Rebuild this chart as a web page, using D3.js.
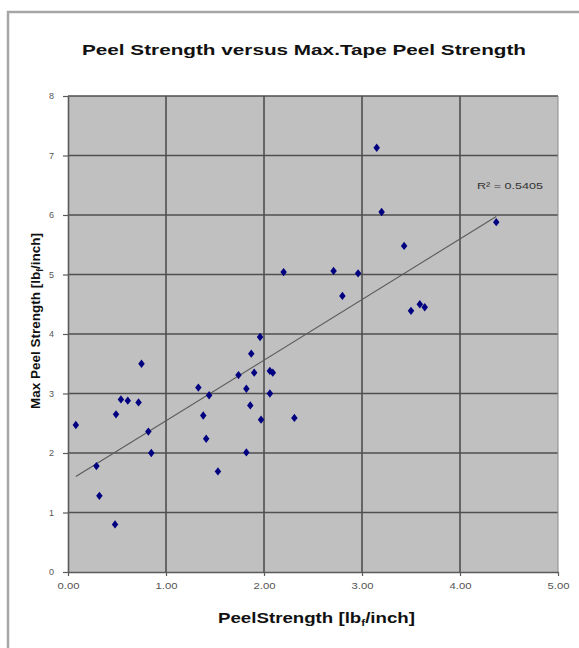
<!DOCTYPE html>
<html>
<head>
<meta charset="utf-8">
<script src="https://cdn.jsdelivr.net/npm/d3@7"></script>
<style>
  html, body { margin: 0; padding: 0; background: #fff; }
  svg { display: block; font-family: Arial, "Liberation Sans", sans-serif; }
</style>
</head>
<body>
<svg id="chart" width="579" height="648"></svg>
<script>
// ---- data ----
const peelStrength = [2.20, 3.15, 3.20, 4.37, 3.43, 2.71, 2.96, 2.80, 3.50, 3.59, 3.64,
  1.96, 1.87, 0.75, 1.74, 1.90, 2.06, 2.09, 1.33, 1.82, 1.44, 2.06, 0.54, 0.61, 0.72,
  1.86, 0.49, 1.38, 0.08, 2.31, 1.97, 0.82, 1.41, 0.85, 1.82, 0.29, 1.53, 0.32, 0.48];
const maxPeelStrength = [5.04, 7.13, 6.05, 5.88, 5.48, 5.06, 5.02, 4.64, 4.39, 4.50, 4.45,
  3.95, 3.67, 3.50, 3.31, 3.35, 3.38, 3.35, 3.10, 3.08, 2.97, 3.00, 2.90, 2.88, 2.85,
  2.80, 2.65, 2.63, 2.47, 2.59, 2.56, 2.36, 2.24, 2.00, 2.01, 1.78, 1.69, 1.28, 0.80];
const xTicks = [0, 1, 2, 3, 4, 5];
const yTicks = [0, 1, 2, 3, 4, 5, 6, 7, 8];
const titleText = "Peel Strength versus Max.Tape Peel Strength";
const rSquaredLabel = "R² = 0.5405";

// ---- layout ----
const svg = d3.select("#chart");
const plot = { left: 68, right: 558, top: 96, bottom: 572 };

const x = d3.scaleLinear().domain([0, 5]).range([plot.left, plot.right]);
const y = d3.scaleLinear().domain([0, 8]).range([plot.bottom, plot.top]);

// outer frame (left and top edges visible)
svg.append("path")
  .attr("d", "M8,648 L8,12 L579,12")
  .attr("fill", "none")
  .attr("stroke", "#a6a6a6")
  .attr("stroke-width", 2.5);

// plot background
svg.append("rect")
  .attr("x", plot.left).attr("y", plot.top)
  .attr("width", plot.right - plot.left).attr("height", plot.bottom - plot.top)
  .attr("fill", "#c0c0c0");

// gridlines
const grid = svg.append("g");
grid.selectAll("line.h").data(yTicks.filter(d => d > 0)).join("line")
  .attr("x1", plot.left).attr("x2", plot.right)
  .attr("y1", d => y(d)).attr("y2", d => y(d))
  .attr("stroke", "#4f4f4f").attr("stroke-width", 1.6);
grid.selectAll("line.v").data(xTicks.filter(d => d > 0 && d < 5)).join("line")
  .attr("y1", plot.top).attr("y2", plot.bottom)
  .attr("x1", d => x(d)).attr("x2", d => x(d))
  .attr("stroke", "#4f4f4f").attr("stroke-width", 1.6);
// right border of plot
svg.append("line")
  .attr("x1", plot.right).attr("x2", plot.right)
  .attr("y1", plot.top).attr("y2", plot.bottom)
  .attr("stroke", "#8a8a8a").attr("stroke-width", 1);

// axes
const xAxis = svg.append("g")
  .attr("transform", `translate(0,${plot.bottom})`)
  .call(d3.axisBottom(x).tickValues(xTicks).tickFormat(d3.format(".2f")).tickSize(4).tickPadding(7).tickSizeOuter(0));
const yAxis = svg.append("g")
  .attr("transform", `translate(${plot.left},0)`)
  .call(d3.axisLeft(y).tickValues(yTicks).tickFormat(d3.format("d")).tickSize(5).tickPadding(9).tickSizeOuter(0));

[xAxis, yAxis].forEach(a => {
  a.select(".domain").attr("stroke", "#5a5a5a").attr("stroke-width", 1.6);
  a.selectAll(".tick line").attr("stroke", "#5a5a5a").attr("stroke-width", 1.2);
  a.selectAll(".tick text")
    .attr("fill", "#555")
    .attr("font-size", 9)
    .attr("font-family", "Arial, 'Liberation Sans', sans-serif");
});
xAxis.selectAll(".tick text").attr("textLength", 22).attr("lengthAdjust", "spacingAndGlyphs");

// trendline: least squares fit of the data
const n = peelStrength.length;
const mx = d3.mean(peelStrength), my = d3.mean(maxPeelStrength);
let sxy = 0, sxx = 0;
for (let i = 0; i < n; i++) {
  sxy += (peelStrength[i] - mx) * (maxPeelStrength[i] - my);
  sxx += (peelStrength[i] - mx) ** 2;
}
const slope = sxy / sxx, intercept = my - slope * mx;
const [xmin, xmax] = d3.extent(peelStrength);
svg.append("line")
  .attr("x1", x(xmin)).attr("y1", y(intercept + slope * xmin))
  .attr("x2", x(xmax)).attr("y2", y(intercept + slope * xmax))
  .attr("stroke", "#5a5a5a").attr("stroke-width", 1.1);

// points
const diamond = d3.symbol().type(d3.symbolDiamond).size(20);
svg.append("g").selectAll("path").data(d3.range(n)).join("path")
  .attr("d", diamond)
  .attr("transform", i => `translate(${x(peelStrength[i])},${y(maxPeelStrength[i])}) scale(1.35,1)`)
  .attr("fill", "#000080");

// R² label
svg.append("text")
  .attr("x", 477).attr("y", 189)
  .attr("font-size", 9.5).attr("fill", "#333")
  .attr("textLength", 66).attr("lengthAdjust", "spacingAndGlyphs")
  .text(rSquaredLabel);

// title
svg.append("text")
  .attr("x", 82).attr("y", 55)
  .attr("font-size", 15).attr("font-weight", "bold").attr("fill", "#111")
  .attr("textLength", 444).attr("lengthAdjust", "spacingAndGlyphs")
  .text(titleText);

// x axis label
const xl = svg.append("text")
  .attr("x", 218).attr("y", 623)
  .attr("font-size", 14.5).attr("font-weight", "bold").attr("fill", "#111")
  .attr("textLength", 197).attr("lengthAdjust", "spacingAndGlyphs");
xl.append("tspan").text("PeelStrength [lb");
xl.append("tspan").attr("font-size", 9).attr("dy", 3).text("f");
xl.append("tspan").attr("dy", -3).text("/inch]");

// y axis label
const yl = svg.append("text")
  .attr("transform", "translate(40,409) rotate(-90)")
  .attr("x", 0).attr("y", 0)
  .attr("font-size", 13.5).attr("font-weight", "bold").attr("fill", "#111")
  .attr("textLength", 176).attr("lengthAdjust", "spacingAndGlyphs");
yl.append("tspan").text("Max Peel Strength [lb");
yl.append("tspan").attr("font-size", 8.5).attr("dy", 3).text("f");
yl.append("tspan").attr("dy", -3).text("/inch]");
</script>
</body>
</html>
